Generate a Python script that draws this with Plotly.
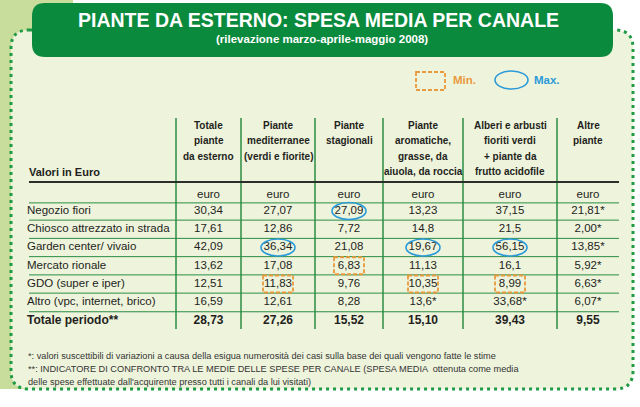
import plotly.graph_objects as go

# Data
channels = ["Negozio fiori", "Chiosco attrezzato in strada", "Garden center/ vivaio",
            "Mercato rionale", "GDO (super e iper)", "Altro (vpc, internet, brico)"]
total_label = "Totale periodo**"
col_titles = ["Totale<br>piante<br>da esterno",
              "Piante<br>mediterranee<br>(verdi e fiorite)",
              "Piante<br>stagionali",
              "Piante<br>aromatiche,<br>grasse, da<br>aiuola, da roccia",
              "Alberi e arbusti<br>fioriti verdi<br>+ piante da<br>frutto acidofile",
              "Altre<br>piante"]
totale_esterno = ["30,34", "17,61", "42,09", "13,62", "12,51", "16,59"]
mediterranee = ["27,07", "12,86", "36,34", "17,08", "11,83", "12,61"]
stagionali = ["27,09", "7,72", "21,08", "6,83", "9,76", "8,28"]
aromatiche = ["13,23", "14,8", "19,67", "11,13", "10,35", "13,6*"]
alberi = ["37,15", "21,5", "56,15", "16,1", "8,99", "33,68*"]
altre = ["21,81*", "2,00*", "13,85*", "5,92*", "6,63*", "6,07*"]
totale_periodo = ["28,73", "27,26", "15,52", "15,10", "39,43", "9,55"]
highlight_cols = [1, 2, 3, 4]  # columns with min/max markers

columns = [totale_esterno, mediterranee, stagionali, aromatiche, alberi, altre]


def num(s):
    return float(s.rstrip("*").replace(",", "."))


# layout constants (pixel-like axis units)
W, H = 640, 407
bounds = [29, 176, 241, 315, 383, 463, 557, 619]
centers = [(bounds[i] + bounds[i + 1]) / 2 for i in range(1, len(bounds) - 1)]
row0, row_h = 211, 18.25
row_y = [row0 + i * row_h for i in range(len(channels))]
tot_y = row_y[-1] + 19

FONT = "Liberation Sans, Arial, sans-serif"
TXT = "#231f20"
GREEN = "#2b8c43"
DKGREEN = "#0a8a3d"
ORANGE = "#e89a3c"
BLUE = "#2a9ad8"
BODY = 11.5

fig = go.Figure()

# row labels
fig.add_trace(go.Scatter(x=[bounds[0] - 2] * len(channels), y=row_y, text=channels, mode="text",
                         textposition="middle right", hoverinfo="skip",
                         textfont=dict(family=FONT, size=BODY, color=TXT)))
fig.add_trace(go.Scatter(x=[bounds[0] - 2], y=[tot_y], text=[total_label], mode="text",
                         textposition="middle right", hoverinfo="skip",
                         textfont=dict(family=FONT, size=12, color=TXT, weight="bold")))

for j, vals in enumerate(columns):
    fig.add_trace(go.Scatter(x=[centers[j]] * len(vals), y=row_y, text=vals, mode="text",
                             textposition="middle center", hoverinfo="skip",
                             textfont=dict(family=FONT, size=BODY, color=TXT)))
fig.add_trace(go.Scatter(x=centers, y=[tot_y] * len(centers), text=totale_periodo, mode="text",
                         textposition="middle center", hoverinfo="skip",
                         textfont=dict(family=FONT, size=12, color=TXT, weight="bold")))
fig.add_trace(go.Scatter(x=centers, y=[195] * len(centers), text=["euro"] * len(centers),
                         mode="text", textposition="middle center", hoverinfo="skip",
                         textfont=dict(family=FONT, size=BODY, color=TXT)))

shapes = []
# background pieces
shapes.append(dict(type="rect", x0=0, x1=73, y0=0, y1=389, fillcolor="#c8dc9c",
                   line=dict(width=0), layer="below"))
px0, px1, py0, py1, r = 11, 633, 30, 389, 18
panel = (f"M{px0 + r},{py0} L{px1 - r},{py0} Q{px1},{py0} {px1},{py0 + r} "
         f"L{px1},{py1 - r} Q{px1},{py1} {px1 - r},{py1} L{px0 + r},{py1} "
         f"Q{px0},{py1} {px0},{py1 - r} L{px0},{py0 + r} Q{px0},{py0} {px0 + r},{py0} Z")
shapes.append(dict(type="path", path=panel, fillcolor="#eef3dc",
                   line=dict(color="#1f9a45", width=3, dash="3px,4px"), layer="below"))
hx0, hx1, hy0, hy1, hr = 32, 613, 3, 57, 13
header = (f"M{hx0 + hr},{hy0} L{hx1 - hr},{hy0} Q{hx1},{hy0} {hx1},{hy0 + hr} "
          f"L{hx1},{hy1 - hr} Q{hx1},{hy1} {hx1 - hr},{hy1} L{hx0 + hr},{hy1} "
          f"Q{hx0},{hy1} {hx0},{hy1 - hr} L{hx0},{hy0 + hr} Q{hx0},{hy0} {hx0 + hr},{hy0} Z")
shapes.append(dict(type="path", path=header, fillcolor=DKGREEN, line=dict(width=0)))

# table grid
for xb in bounds[1:-1]:
    shapes.append(dict(type="line", x0=xb, x1=xb, y0=118, y1=329,
                       line=dict(color=GREEN, width=1.5)))
shapes.append(dict(type="line", x0=bounds[0], x1=bounds[-1], y0=182, y1=182,
                   line=dict(color="#2a2f2a", width=2)))
for yb in [row0 - row_h / 2 + 1] + [y + row_h / 2 for y in row_y[:-1]] + [(row_y[-1] + tot_y) / 2]:
    shapes.append(dict(type="line", x0=bounds[0], x1=bounds[-1], y0=yb, y1=yb,
                       line=dict(color=GREEN, width=1)))

# min / max markers
for j in highlight_cols:
    nums = [num(v) for v in columns[j]]
    imax = nums.index(max(nums))
    imin = nums.index(min(nums))
    cx = centers[j]
    shapes.append(dict(type="circle", x0=cx - 17, x1=cx + 17, y0=row_y[imax] - 8.5,
                       y1=row_y[imax] + 8.5, line=dict(color=BLUE, width=1.6)))
    shapes.append(dict(type="rect", x0=cx - 15, x1=cx + 15, y0=row_y[imin] - 8.5,
                       y1=row_y[imin] + 8.5, line=dict(color=ORANGE, width=1.8, dash="4px,2px")))

# legend
shapes.append(dict(type="rect", x0=416, x1=445, y0=72, y1=90,
                   line=dict(color=ORANGE, width=1.8, dash="4px,2px")))
shapes.append(dict(type="circle", x0=495, x1=528, y0=71, y1=89,
                   line=dict(color=BLUE, width=1.6)))

ann = []
ann.append(dict(x=318, y=20, text="<b>PIANTE DA ESTERNO: SPESA MEDIA PER CANALE</b>",
                font=dict(family=FONT, size=19.5, color="white")))
ann.append(dict(x=322, y=39, text="<b>(rilevazione marzo-aprile-maggio 2008)</b>",
                font=dict(family=FONT, size=11.5, color="white")))
ann.append(dict(x=451, y=80, text="<b>Min.</b>", xanchor="left",
                font=dict(family=FONT, size=11.5, color=ORANGE)))
ann.append(dict(x=532, y=80, text="<b>Max.</b>", xanchor="left",
                font=dict(family=FONT, size=11.5, color=BLUE)))
ann.append(dict(x=bounds[0] - 2, y=172, text="<b>Valori in Euro</b>", xanchor="left",
                font=dict(family=FONT, size=11, color=TXT)))
for j, t in enumerate(col_titles):
    for k, line in enumerate(t.split("<br>")):
        ann.append(dict(x=centers[j], y=125 + k * 15.6, text="<b>" + line + "</b>",
                        font=dict(family=FONT, size=10, color=TXT)))
foot = ["*: valori suscettibili di variazioni a causa della esigua numerosità dei casi sulla base dei quali vengono fatte le stime",
        "**: INDICATORE DI CONFRONTO TRA LE MEDIE DELLE SPESE PER CANALE (SPESA MEDIA  ottenuta come media",
        "delle spese effettuate dall'acquirente presso tutti i canali da lui visitati)"]
for i, t in enumerate(foot):
    ann.append(dict(x=bounds[0] - 3, y=356 + i * 13, text=t, xanchor="left",
                    font=dict(family=FONT, size=9.2, color="#333333")))
for a in ann:
    a.update(xref="x", yref="y", showarrow=False)
    a.setdefault("xanchor", "center")
    a.setdefault("yanchor", "middle")

fig.update_layout(
    width=W, height=H, margin=dict(l=0, r=0, t=0, b=0),
    paper_bgcolor="white", plot_bgcolor="white", showlegend=False,
    xaxis=dict(range=[0, W], visible=False, fixedrange=True),
    yaxis=dict(range=[H, 0], visible=False, fixedrange=True),
    shapes=shapes, annotations=ann,
)
# drop the browser's default 8px page margin so the figure sits at the corner
fig.write_html("out.html", config={"displayModeBar": False},
               post_script="document.body.style.margin = '0';")
